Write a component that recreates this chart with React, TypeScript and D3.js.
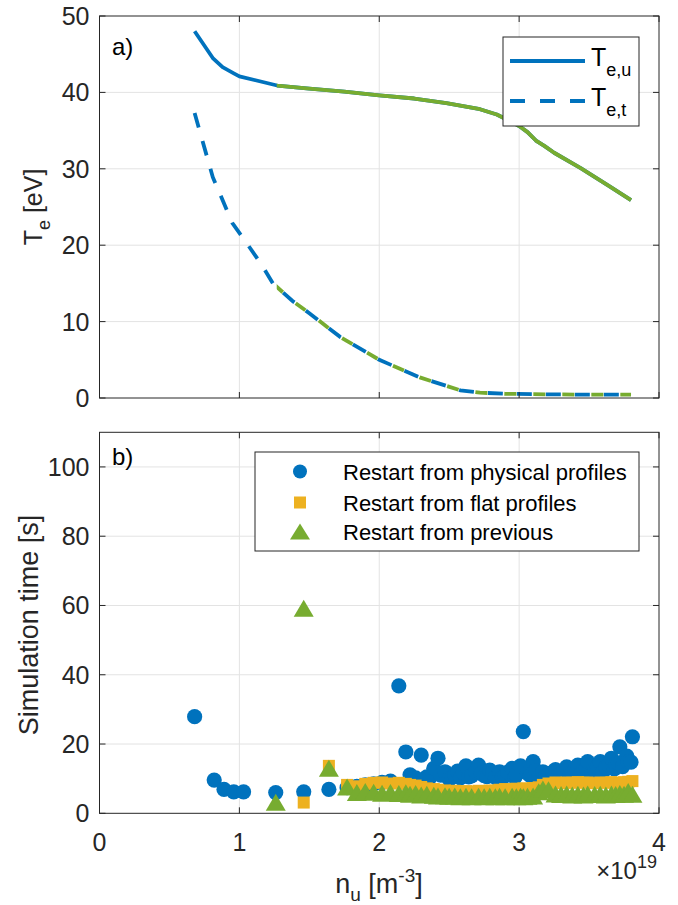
import * as d3 from "d3";

// electron temperature scan (top panel)
const nTeU = [0.68, 0.81, 0.88, 0.96, 1.0, 1.27, 1.5, 1.75, 2.0, 2.25, 2.48, 2.72, 2.84, 2.93, 3.0, 3.06, 3.12, 3.18, 3.25, 3.44, 3.63, 3.8];
const teU = [48.0, 44.5, 43.3, 42.5, 42.1, 40.9, 40.5, 40.1, 39.6, 39.2, 38.6, 37.8, 37.1, 36.3, 35.6, 34.8, 33.7, 33.0, 32.1, 30.1, 27.9, 25.9];
const nTeT = [0.68, 0.81, 0.95, 1.02, 1.15, 1.24, 1.38, 1.5, 1.72, 2.0, 2.29, 2.58, 2.72, 2.9, 3.1, 3.4, 3.8];
const teT = [37.3, 28.9, 22.9, 21.1, 17.7, 15.0, 12.7, 11.1, 8.0, 5.0, 2.7, 1.0, 0.7, 0.55, 0.5, 0.45, 0.45];
const prevStart = 1.267; // restart-from-previous run covers n >= this

// simulation times (bottom panel)
const nPhys = [0.68, 0.82, 0.89, 0.96, 1.03, 1.26, 1.46, 1.64, 1.77, 1.84, 1.9, 1.96, 2.02, 2.08, 2.14, 2.19, 2.22, 2.26, 2.3, 2.34, 2.36, 2.39, 2.42, 2.44, 2.47, 2.5, 2.52, 2.54, 2.56, 2.58, 2.6, 2.62, 2.64, 2.66, 2.69, 2.71, 2.73, 2.75, 2.77, 2.79, 2.81, 2.83, 2.86, 2.88, 2.9, 2.92, 2.95, 2.97, 2.98, 3.01, 3.03, 3.06, 3.08, 3.1, 3.12, 3.14, 3.17, 3.19, 3.21, 3.24, 3.26, 3.28, 3.3, 3.32, 3.34, 3.36, 3.38, 3.4, 3.42, 3.44, 3.46, 3.48, 3.49, 3.52, 3.54, 3.56, 3.58, 3.6, 3.62, 3.64, 3.66, 3.68, 3.69, 3.71, 3.72, 3.74, 3.75, 3.77, 3.78, 3.8, 3.81];
const tPhys = [27.9, 9.6, 6.9, 6.2, 6.2, 6.0, 6.2, 6.9, 7.4, 7.8, 8.2, 8.5, 8.9, 9.3, 36.8, 17.7, 11.1, 10.2, 16.8, 10.5, 10.2, 13.0, 15.9, 11.0, 12.0, 9.8, 10.4, 11.1, 12.2, 10.2, 11.6, 13.7, 10.5, 10.8, 12.0, 13.9, 11.5, 10.9, 10.6, 12.5, 11.6, 10.4, 12.0, 10.3, 10.8, 11.9, 13.0, 10.4, 11.2, 13.7, 23.6, 11.5, 10.9, 14.9, 12.3, 10.6, 12.0, 10.8, 11.0, 11.9, 12.6, 10.9, 11.3, 12.1, 13.4, 11.0, 11.8, 12.6, 13.9, 11.4, 12.4, 13.0, 14.9, 11.8, 12.7, 13.4, 14.9, 12.0, 13.2, 13.9, 15.9, 12.8, 14.2, 14.5, 19.2, 13.5, 15.0, 16.5, 14.9, 14.8, 22.1];

const nFlat = [1.46, 1.64, 1.77, 1.84, 1.9, 1.96, 2.02, 2.08, 2.14, 2.19, 2.22, 2.26, 2.3, 2.34, 2.39, 2.42, 2.47, 2.5, 2.54, 2.58, 2.62, 2.66, 2.71, 2.75, 2.79, 2.83, 2.86, 2.9, 2.95, 2.98, 3.01, 3.03, 3.06, 3.1, 3.14, 3.17, 3.21, 3.26, 3.3, 3.34, 3.38, 3.42, 3.46, 3.49, 3.54, 3.58, 3.62, 3.66, 3.69, 3.72, 3.75, 3.78, 3.81];
const tFlat = [3.1, 13.7, 8.2, 7.8, 8.5, 8.8, 8.9, 8.6, 8.8, 8.5, 8.2, 8.0, 7.6, 7.2, 7.0, 6.8, 6.6, 6.4, 6.5, 6.3, 6.4, 6.3, 6.5, 6.4, 6.6, 6.5, 6.8, 7.0, 6.9, 7.1, 7.0, 7.2, 7.1, 7.3, 7.5, 8.2, 8.6, 8.9, 8.7, 8.9, 8.8, 9.0, 8.8, 8.9, 8.7, 8.9, 8.8, 9.0, 8.8, 8.7, 9.0, 9.1, 9.3];

const nPrev = [1.26, 1.46, 1.64, 1.77, 1.84, 1.9, 1.96, 2.02, 2.08, 2.14, 2.19, 2.22, 2.26, 2.3, 2.34, 2.39, 2.42, 2.47, 2.5, 2.54, 2.58, 2.62, 2.66, 2.71, 2.75, 2.79, 2.83, 2.86, 2.9, 2.95, 2.98, 3.01, 3.03, 3.06, 3.1, 3.14, 3.17, 3.21, 3.26, 3.3, 3.34, 3.38, 3.42, 3.46, 3.49, 3.54, 3.58, 3.62, 3.66, 3.69, 3.72, 3.75, 3.78, 3.81];
const tPrev = [3.2, 59.2, 13.0, 7.6, 6.0, 6.3, 6.1, 5.8, 6.0, 5.7, 5.9, 5.5, 5.7, 5.3, 5.5, 5.2, 5.0, 5.1, 4.9, 5.0, 4.8, 4.9, 4.8, 4.9, 4.8, 4.9, 4.8, 4.9, 4.8, 4.9, 4.8, 4.9, 4.8, 4.9, 5.0, 6.2, 7.0, 6.8, 5.6, 5.4, 5.6, 5.3, 5.5, 5.3, 5.6, 5.4, 5.5, 5.3, 5.6, 5.4, 5.7, 5.5, 6.3, 5.5];

const xTicks = [0, 1, 2, 3, 4];
const yTopTicks = [0, 10, 20, 30, 40, 50];
const yBotTicks = [0, 20, 40, 60, 80, 100];

const BLUE = "#0072BD";
const ORANGE = "#EDB120";
const GREEN = "#77AC30";
const AXIS = "#262626";
const GRID = "#e3e3e3";
const FONT = "'Liberation Sans', Arial, Helvetica, sans-serif";

const W = 678;
const H = 905;
const left = 99.5;
const right = 659;

const x = d3.scaleLinear().domain([0, 4]).range([left, right]);
const yTop = d3.scaleLinear().domain([0, 50]).range([398, 16]);
const yBot = d3.scaleLinear().domain([0, 110]).range([813.3, 432.3]);

const tri = (cx: number, cy: number, w = 20, h = 17) =>
  `M${cx},${cy - h / 2}L${cx + w / 2},${cy + h / 2}L${cx - w / 2},${cy + h / 2}Z`;

function Grid({ y, yTicks }: { y: d3.ScaleLinear<number, number>; yTicks: number[] }) {
  const [y0, y1] = y.range();
  return (
    <g>
      {xTicks.slice(1, -1).map((t) => (
        <line key={"gx" + t} x1={x(t)} x2={x(t)} y1={y0} y2={y1} stroke={GRID} strokeWidth={1} />
      ))}
      {yTicks.filter((t) => y(t) > y1 + 1 && y(t) < y0 - 1).map((t) => (
        <line key={"gy" + t} x1={left} x2={right} y1={y(t)} y2={y(t)} stroke={GRID} strokeWidth={1} />
      ))}
    </g>
  );
}

function Axes({ y, yTicks, showXLabels }: { y: d3.ScaleLinear<number, number>; yTicks: number[]; showXLabels: boolean }) {
  const [y0, y1] = y.range();
  const tl = 6;
  return (
    <g stroke={AXIS} strokeWidth={1} fill="none">
      <rect x={left} y={y1} width={right - left} height={y0 - y1} />
      {xTicks.map((t) => (
        <g key={"tx" + t}>
          <line x1={x(t)} x2={x(t)} y1={y0} y2={y0 - tl} />
          <line x1={x(t)} x2={x(t)} y1={y1} y2={y1 + tl} />
        </g>
      ))}
      {yTicks.map((t) => (
        <g key={"ty" + t}>
          <line x1={left} x2={left + tl} y1={y(t)} y2={y(t)} />
          <line x1={right} x2={right - tl} y1={y(t)} y2={y(t)} />
        </g>
      ))}
      <g stroke="none" fill={AXIS} fontFamily={FONT} fontSize={25}>
        {yTicks.map((t) => (
          <text key={"ly" + t} x={left - 10} y={y(t) + 9} textAnchor="end">
            {t}
          </text>
        ))}
        {showXLabels &&
          xTicks.map((t) => (
            <text key={"lx" + t} x={x(t)} y={y0 + 38} textAnchor="middle">
              {t}
            </text>
          ))}
      </g>
    </g>
  );
}

export default function App() {
  const lineU = d3
    .line<number>()
    .x((d, i) => x(nTeU[i]))
    .y((d) => yTop(d));
  const lineT = d3
    .line<number>()
    .x((d, i) => x(nTeT[i]))
    .y((d) => yTop(d));
  const pathU = lineU(teU) || "";
  const pathT = lineT(teT) || "";

  return (
    <svg width={W} height={H} style={{ position: "absolute", left: 0, top: 0 }} fontFamily={FONT}>
      <defs>
        <clipPath id="prevClip">
          <rect x={x(prevStart)} y={0} width={W} height={420} />
        </clipPath>
        <clipPath id="botClip">
          <rect x={left} y={yBot(110)} width={right - left} height={yBot(0) - yBot(110)} />
        </clipPath>
      </defs>
      <rect width={W} height={H} fill="#fff" />

      {/* top panel */}
      <Grid y={yTop} yTicks={yTopTicks} />
      <path d={pathU} fill="none" stroke={BLUE} strokeWidth={3.8} strokeLinejoin="round" />
      <path d={pathT} fill="none" stroke={BLUE} strokeWidth={3.8} strokeDasharray="15 14" />
      <g clipPath="url(#prevClip)">
        <path d={pathU} fill="none" stroke={GREEN} strokeWidth={3.8} strokeLinejoin="round" />
        <path d={pathT} fill="none" stroke={GREEN} strokeWidth={3.8} strokeDasharray="12 17" strokeDashoffset={-16.5} />
      </g>
      <Axes y={yTop} yTicks={yTopTicks} showXLabels={false} />
      <text x={112} y={55} fontSize={24} fill="#000">a)</text>

      {/* top legend */}
      <rect x={503} y={37} width={136} height={89} fill="#fff" stroke={AXIS} strokeWidth={1} />
      <line x1={510} x2={585} y1={61} y2={61} stroke={BLUE} strokeWidth={3.8} />
      <line x1={510} x2={585} y1={101} y2={101} stroke={BLUE} strokeWidth={3.8} strokeDasharray="15 15" />
      <text x={591} y={66} fontSize={25} fill="#000">
        T<tspan fontSize={18} dy={10}>e,u</tspan>
      </text>
      <text x={591} y={106} fontSize={25} fill="#000">
        T<tspan fontSize={18} dy={10}>e,t</tspan>
      </text>

      {/* bottom panel */}
      <Grid y={yBot} yTicks={yBotTicks} />
      <g clipPath="url(#botClip)">
        {tPhys.map((t, i) => (
          <circle key={"p" + i} cx={x(nPhys[i])} cy={yBot(t)} r={7.6} fill={BLUE} />
        ))}
        {tFlat.map((t, i) => (
          <rect key={"f" + i} x={x(nFlat[i]) - 6} y={yBot(t) - 6} width={12} height={12} fill={ORANGE} />
        ))}
        {tPrev.map((t, i) => (
          <path key={"v" + i} d={tri(x(nPrev[i]), yBot(t))} fill={GREEN} />
        ))}
      </g>
      <Axes y={yBot} yTicks={yBotTicks} showXLabels={true} />
      <text x={112} y={465} fontSize={24} fill="#000">b)</text>

      {/* bottom legend */}
      <rect x={255} y={452} width={384} height={99} fill="#fff" stroke={AXIS} strokeWidth={1} />
      <circle cx={300} cy={471.5} r={7} fill={BLUE} />
      <rect x={294} y={496.5} width={12} height={12} fill={ORANGE} />
      <path d={tri(300, 531.5, 20, 16)} fill={GREEN} />
      <g fontSize={22} fill="#000">
        <text x={343} y={480}>Restart from physical profiles</text>
        <text x={343} y={510.5}>Restart from flat profiles</text>
        <text x={343} y={540}>Restart from previous</text>
      </g>

      {/* axis labels */}
      <text transform="translate(42,207) rotate(-90)" textAnchor="middle" fontSize={25} fill={AXIS}>
        T<tspan fontSize={18} dy={8}>e</tspan>
        <tspan dy={-8}> [eV]</tspan>
      </text>
      <text transform="translate(38,625) rotate(-90)" textAnchor="middle" fontSize={27} fill={AXIS}>
        Simulation time [s]
      </text>
      <text x={379} y={893} textAnchor="middle" fontSize={27} fill={AXIS}>
        n<tspan fontSize={19} dy={8}>u</tspan>
        <tspan dy={-8}> [m</tspan>
        <tspan fontSize={19} dy={-11}>-3</tspan>
        <tspan dy={11}>]</tspan>
      </text>
      <text x={657} y={879} textAnchor="end" fontSize={24} fill={AXIS}>
        ×10<tspan fontSize={18} dy={-11}>19</tspan>
      </text>
    </svg>
  );
}
